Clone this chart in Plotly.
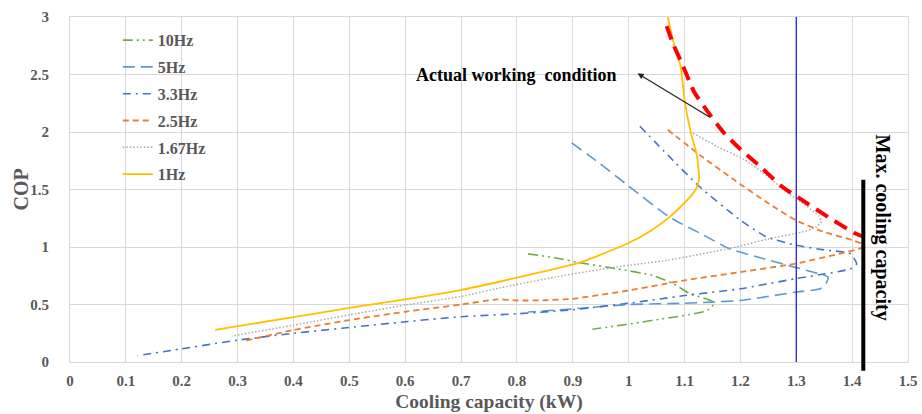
import plotly.graph_objects as go

# ---- data ----
f10_x = [0.82, 0.87, 0.912, 0.98, 1.043, 1.08, 1.11, 1.135, 1.152, 1.148, 1.13, 1.10, 1.06, 1.022, 0.98, 0.935]
f10_y = [0.94, 0.905, 0.864, 0.81, 0.753, 0.68, 0.593, 0.555, 0.52, 0.47, 0.433, 0.405, 0.375, 0.346, 0.315, 0.285]

f5_x = [0.898, 0.948, 1.0, 1.073, 1.13, 1.18, 1.24, 1.297, 1.335, 1.357, 1.353, 1.343, 1.298, 1.2, 1.1, 1.0, 0.9, 0.82]
f5_y = [1.905, 1.728, 1.53, 1.26, 1.114, 0.986, 0.90, 0.825, 0.775, 0.738, 0.68, 0.637, 0.607, 0.535, 0.511, 0.50, 0.462, 0.435]

f33_x = [1.02, 1.07, 1.127, 1.2, 1.247, 1.3, 1.35, 1.397, 1.408, 1.397, 1.298, 1.2, 1.1, 1.0, 0.9, 0.8, 0.7, 0.6, 0.5, 0.4, 0.3, 0.2, 0.121]
f33_y = [2.05, 1.80, 1.524, 1.233, 1.087, 1.015, 0.975, 0.942, 0.853, 0.81, 0.724, 0.637, 0.578, 0.511, 0.454, 0.419, 0.394, 0.35, 0.30, 0.25, 0.19, 0.115, 0.055]

f25_x = [1.07, 1.13, 1.19, 1.25, 1.30, 1.35, 1.40, 1.42, 1.415, 1.378, 1.298, 1.2, 1.1, 1.0, 0.9, 0.85, 0.80, 0.765, 0.70, 0.60, 0.50, 0.40, 0.314]
f25_y = [2.02, 1.79, 1.58, 1.38, 1.23, 1.13, 1.06, 1.02, 0.99, 0.942, 0.855, 0.782, 0.71, 0.622, 0.55, 0.537, 0.535, 0.545, 0.50, 0.437, 0.365, 0.278, 0.185]

f167_x = [1.115, 1.16, 1.207, 1.25, 1.285, 1.32, 1.34, 1.345, 1.335, 1.31, 1.25, 1.183, 1.07, 0.975, 0.87, 0.77, 0.70, 0.60, 0.50, 0.40, 0.29]
f167_y = [1.99, 1.87, 1.76, 1.61, 1.47, 1.35, 1.27, 1.22, 1.17, 1.13, 1.07, 0.99, 0.885, 0.825, 0.74, 0.645, 0.57, 0.495, 0.41, 0.32, 0.226]

f1_x = [0.26, 0.40, 0.50, 0.60, 0.70, 0.77, 0.85, 0.912, 0.948, 0.998, 1.039, 1.073, 1.093, 1.111, 1.122, 1.126, 1.122, 1.111, 1.10, 1.093, 1.082, 1.07]
f1_y = [0.28, 0.39, 0.47, 0.545, 0.626, 0.70, 0.79, 0.864, 0.93, 1.03, 1.14, 1.26, 1.35, 1.44, 1.52, 1.60, 1.80, 2.00, 2.28, 2.57, 2.75, 3.00]

actual_x = [1.068, 1.08, 1.095, 1.117, 1.147, 1.171, 1.20, 1.24, 1.273, 1.31, 1.357, 1.405, 1.42]
actual_y = [2.92, 2.76, 2.60, 2.35, 2.14, 1.99, 1.85, 1.68, 1.53, 1.41, 1.26, 1.12, 1.09]

ref_line_x = 1.3
max_cap_x = 1.42
max_cap_top = 1.585

x_ticks = [0, 0.1, 0.2, 0.3, 0.4, 0.5, 0.6, 0.7, 0.8, 0.9, 1, 1.1, 1.2, 1.3, 1.4, 1.5]
x_tick_text = ["0", "0.1", "0.2", "0.3", "0.4", "0.5", "0.6", "0.7", "0.8", "0.9", "1", "1.1", "1.2", "1.3", "1.4", "1.5"]
y_ticks = [0, 0.5, 1, 1.5, 2, 2.5, 3]
y_tick_text = ["0", "0.5", "1", "1.5", "2", "2.5", "3"]

SERIF = "Liberation Serif, Times New Roman, serif"
GRAY_TXT = "#595959"

series = [
    ("10Hz", f10_x, f10_y, "#70AD47", "10px,4px,2px,4px,2px,4px", 1.6),
    ("5Hz", f5_x, f5_y, "#5B9BD5", "12px,6px", 1.6),
    ("3.3Hz", f33_x, f33_y, "#4472C4", "8px,5px,2px,5px", 1.6),
    ("2.5Hz", f25_x, f25_y, "#ED7D31", "6px,4px", 1.8),
    ("1.67Hz", f167_x, f167_y, "#A5A5A5", "1.5px,2px", 1.4),
    ("1Hz", f1_x, f1_y, "#FFC000", "solid", 1.8),
]

fig = go.Figure()
for i, (name, xs, ys, col, dash, w) in enumerate(series):
    fig.add_trace(go.Scatter(
        x=xs, y=ys, mode="lines", name=name, legendgroup="g%d" % i,
        line=dict(color=col, dash=dash, width=w, shape="spline", smoothing=0.5),
    ))

fig.add_trace(go.Scatter(
    x=actual_x, y=actual_y, mode="lines", showlegend=False,
    line=dict(color="#FF0000", dash="14px,8px", width=4, shape="spline", smoothing=0.5),
))

# vertical reference line at 1.3 kW
fig.add_trace(go.Scatter(
    x=[ref_line_x, ref_line_x], y=[0, 3], mode="lines", showlegend=False,
    line=dict(color="#2222CC", width=1.3),
))

# max cooling capacity black bar
fig.add_shape(type="line", xref="x", yref="paper", x0=max_cap_x, x1=max_cap_x,
              y0=-0.025, y1=max_cap_top / 3.0, line=dict(color="black", width=4))

fig.add_annotation(x=1.016, y=2.51, ax=1.148, ay=2.12, xref="x", yref="y",
                   axref="x", ayref="y", text="", showarrow=True,
                   arrowhead=2, arrowsize=1, arrowwidth=1.2, arrowcolor="#222222")
fig.add_annotation(x=0.8, y=2.5, xref="x", yref="y", text="<b>Actual working  condition</b>",
                   showarrow=False, font=dict(family=SERIF, size=18, color="black"))
fig.add_annotation(x=1.456, y=1.165, xref="x", yref="y", text="<b>Max. cooling capacity</b>",
                   showarrow=False, textangle=90,
                   font=dict(family=SERIF, size=20, color="black"))
# y-axis title
fig.add_annotation(x=-0.0585, y=0.5, xref="paper", yref="paper", text="<b>COP</b>",
                   showarrow=False, textangle=-90, xanchor="center", yanchor="middle",
                   font=dict(family=SERIF, size=20, color=GRAY_TXT))

fig.update_layout(
    width=922, height=414,
    margin=dict(l=70, r=14, t=17, b=52),
    paper_bgcolor="white", plot_bgcolor="white",
    font=dict(family=SERIF, color=GRAY_TXT),
    legend=dict(x=0.057, y=0.982, xanchor="left", yanchor="top",
                bgcolor="rgba(0,0,0,0)", tracegroupgap=3,
                font=dict(family=SERIF, size=16, color=GRAY_TXT, weight="bold")),
    xaxis=dict(range=[0, 1.5], tickmode="array", tickvals=x_ticks, ticktext=x_tick_text,
               showgrid=True, gridcolor="#D9D9D9", gridwidth=1, zeroline=False,
               showline=True, linecolor="#D9D9D9", mirror=True, ticks="",
               automargin=False,
               tickfont=dict(family=SERIF, size=15, color=GRAY_TXT, weight="bold"),
               ticklabelstandoff=5,
               title=dict(text="<b>Cooling capacity (kW)</b>", standoff=6,
                          font=dict(family=SERIF, size=19.5, color=GRAY_TXT))),
    yaxis=dict(range=[0, 3], tickmode="array", tickvals=y_ticks, ticktext=y_tick_text,
               showgrid=True, gridcolor="#D9D9D9", gridwidth=1, zeroline=False,
               showline=True, linecolor="#D9D9D9", mirror=True, ticks="",
               automargin=False,
               tickfont=dict(family=SERIF, size=15, color=GRAY_TXT, weight="bold"),
               ticklabelstandoff=17),
)

fig.write_html("out.html")
